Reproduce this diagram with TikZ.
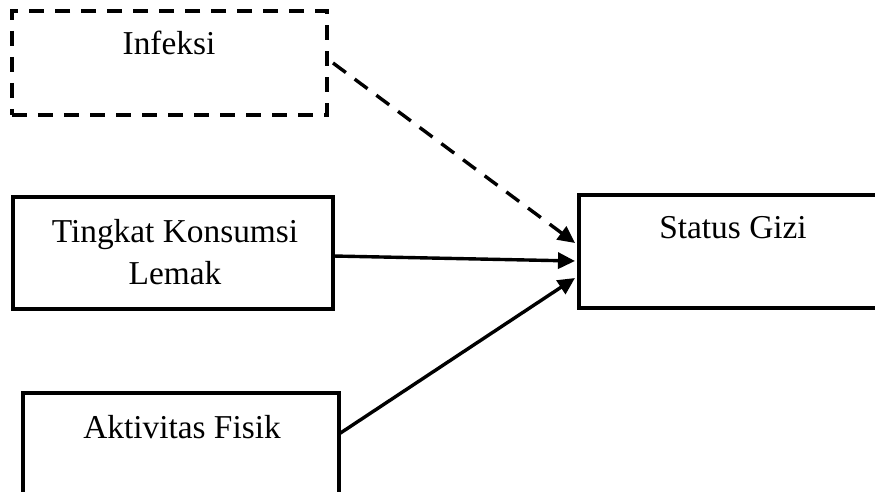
\documentclass[tikz,border=0pt]{standalone}
\usepackage{fontspec}
\setmainfont{Liberation Serif}
\usetikzlibrary{arrows.meta,calc}
\tikzset{
  box/.style={draw, line width=3.8bp, rectangle, inner sep=0pt, outer sep=0pt},
  dbox/.style={box, dash pattern=on 15bp off 11bp},
  lbl/.style={anchor=base, align=center, inner sep=0pt, font=\fontsize{33.5}{43}\selectfont},
  conn/.style={line width=3.4bp, -{Triangle[length=17bp,width=16bp]}},
  dconn/.style={conn, dash pattern=on 16bp off 11bp},
}
\begin{document}
\begin{tikzpicture}[x=1bp,y=-1bp]
\useasboundingbox (0,0) rectangle (875,492);
\clip (0,0) rectangle (875,492);
\node[dbox, minimum width=315bp, minimum height=104bp] (inf) at (169.5,63) {};
\node[box, minimum width=320bp, minimum height=112bp] (tk) at (173,253) {};
\node[box, minimum width=316bp, minimum height=107bp] (ak) at (181,446.5) {};
\node[box, minimum width=301bp, minimum height=113bp] (sg) at (729.5,251.5) {};
\node[lbl] (tinf) at (169,55) {Infeksi};
\node[lbl] (ttk) at (175,285) {Tingkat Konsumsi\\Lemak};
\node[lbl] (tak) at (182,438) {Aktivitas Fisik};
\node[lbl] (tsg) at (733,239) {Status Gizi};
\draw[dconn] ($(inf.east)+(6,0)$) -- ($(sg.west)+(-4,-8.5)$);
\draw[conn] ($(tk.east)+(0,3)$) -- ($(sg.west)+(-4,9.5)$);
\draw[conn] ($(ak.east)+(0,-12.5)$) -- ($(sg.west)+(-4,26.5)$);
\end{tikzpicture}
\end{document}
